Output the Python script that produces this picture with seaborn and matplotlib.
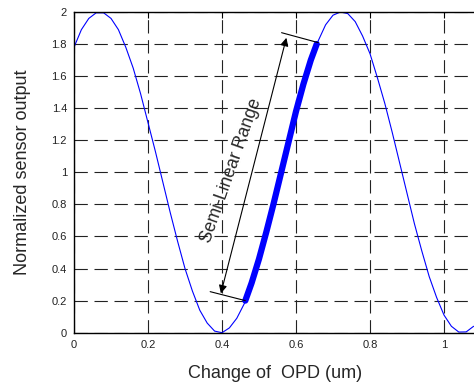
import matplotlib
matplotlib.use("Agg")
import matplotlib.pyplot as plt
import seaborn as sns
import pandas as pd

# Sensor response curve
opd_um = [0.00, 0.02, 0.04, 0.06, 0.08, 0.10, 0.12, 0.14, 0.16, 0.18,
          0.20, 0.22, 0.24, 0.26, 0.28, 0.30, 0.32, 0.34, 0.36, 0.38,
          0.40, 0.42, 0.44, 0.46, 0.48, 0.50, 0.52, 0.54, 0.56, 0.58,
          0.60, 0.62, 0.64, 0.66, 0.68, 0.70, 0.72, 0.74, 0.76, 0.78,
          0.80, 0.82, 0.84, 0.86, 0.88, 0.90, 0.92, 0.94, 0.96, 0.98,
          1.00, 1.02, 1.04, 1.06, 1.08]
sensor_out = [1.78, 1.89, 1.96, 1.995, 1.995, 1.96, 1.89, 1.78, 1.65, 1.49,
              1.31, 1.13, 0.94, 0.75, 0.57, 0.40, 0.26, 0.14, 0.06, 0.01,
              0.00, 0.03, 0.09, 0.18, 0.31, 0.46, 0.63, 0.81, 1.00, 1.19,
              1.38, 1.55, 1.70, 1.82, 1.92, 1.98, 2.00, 1.99, 1.94, 1.85,
              1.74, 1.59, 1.43, 1.25, 1.06, 0.87, 0.68, 0.51, 0.35, 0.22,
              0.11, 0.04, 0.004, 0.005, 0.04]

# Semi-linear range (bold segment)
lin_opd = [0.463, 0.48, 0.50, 0.52, 0.54, 0.56, 0.58, 0.60, 0.62, 0.64, 0.656]
lin_out = [0.20, 0.31, 0.46, 0.63, 0.81, 1.00, 1.19, 1.38, 1.55, 1.70, 1.80]

x_ticks = [0, 0.2, 0.4, 0.6, 0.8, 1]
x_tick_labels = ["0", "0.2", "0.4", "0.6", "0.8", "1"]
y_ticks = [0, 0.2, 0.4, 0.6, 0.8, 1, 1.2, 1.4, 1.6, 1.8, 2]
y_tick_labels = ["0", "0.2", "0.4", "0.6", "0.8", "1", "1.2", "1.4", "1.6", "1.8", "2"]

sns.set_style("white")
plt.rcParams['font.family'] = ['Liberation Sans', 'DejaVu Sans']

fig = plt.figure(figsize=(4.74, 3.83), dpi=100)
W, H = 474, 383
left_px, bottom_px, top_px = 74, 332.7, 12
xmax = 1.085
ax = fig.add_axes([left_px / W, (H - bottom_px) / H,
                   (370 * xmax) / W, (bottom_px - top_px) / H])

df = pd.DataFrame({"x": opd_um, "y": sensor_out})
dfl = pd.DataFrame({"x": lin_opd, "y": lin_out})
sns.lineplot(data=df, x="x", y="y", ax=ax, color="#0000ff", lw=0.8,
             sort=False, estimator=None)
sns.lineplot(data=dfl, x="x", y="y", ax=ax, color="#0000ff", lw=4.5,
             sort=False, estimator=None, solid_capstyle="round")

ax.set_xlim(0, xmax)
ax.set_ylim(0, 2)
ax.set_xticks(x_ticks)
ax.set_xticklabels(x_tick_labels)
ax.set_yticks(y_ticks)
ax.set_yticklabels(y_tick_labels)
ax.tick_params(axis='both', direction='in', length=4, width=0.8,
               labelsize=8, color='black', labelcolor='#222222',
               top=True, pad=5)

ax.grid(True, color='#222222', lw=0.8, linestyle=(0, (12, 6)))
for side in ['left', 'bottom', 'top']:
    ax.spines[side].set_visible(True)
    ax.spines[side].set_color('black')
    ax.spines[side].set_linewidth(1.0)
ax.spines['right'].set_visible(False)

ax.set_xlabel("Change of  OPD (um)", fontsize=13, labelpad=11)
ax.set_ylabel("Normalized sensor output", fontsize=13, labelpad=15)

# Annotation: double arrow with extension lines
ax.annotate("", xy=(0.574, 1.839), xytext=(0.397, 0.245),
            arrowprops=dict(arrowstyle='<|-|>', color='black', lw=0.8,
                            mutation_scale=12, shrinkA=0, shrinkB=0))
ax.plot([0.561, 0.660], [1.871, 1.809], color='black', lw=0.8)
ax.plot([0.368, 0.463], [0.256, 0.20], color='black', lw=0.8)
ax.text(0.368, 0.555, "Semi-Linear Range", rotation=70.5, fontsize=12.7,
        ha='left', va='baseline', rotation_mode='anchor')

fig.savefig("out.png", dpi=100)
